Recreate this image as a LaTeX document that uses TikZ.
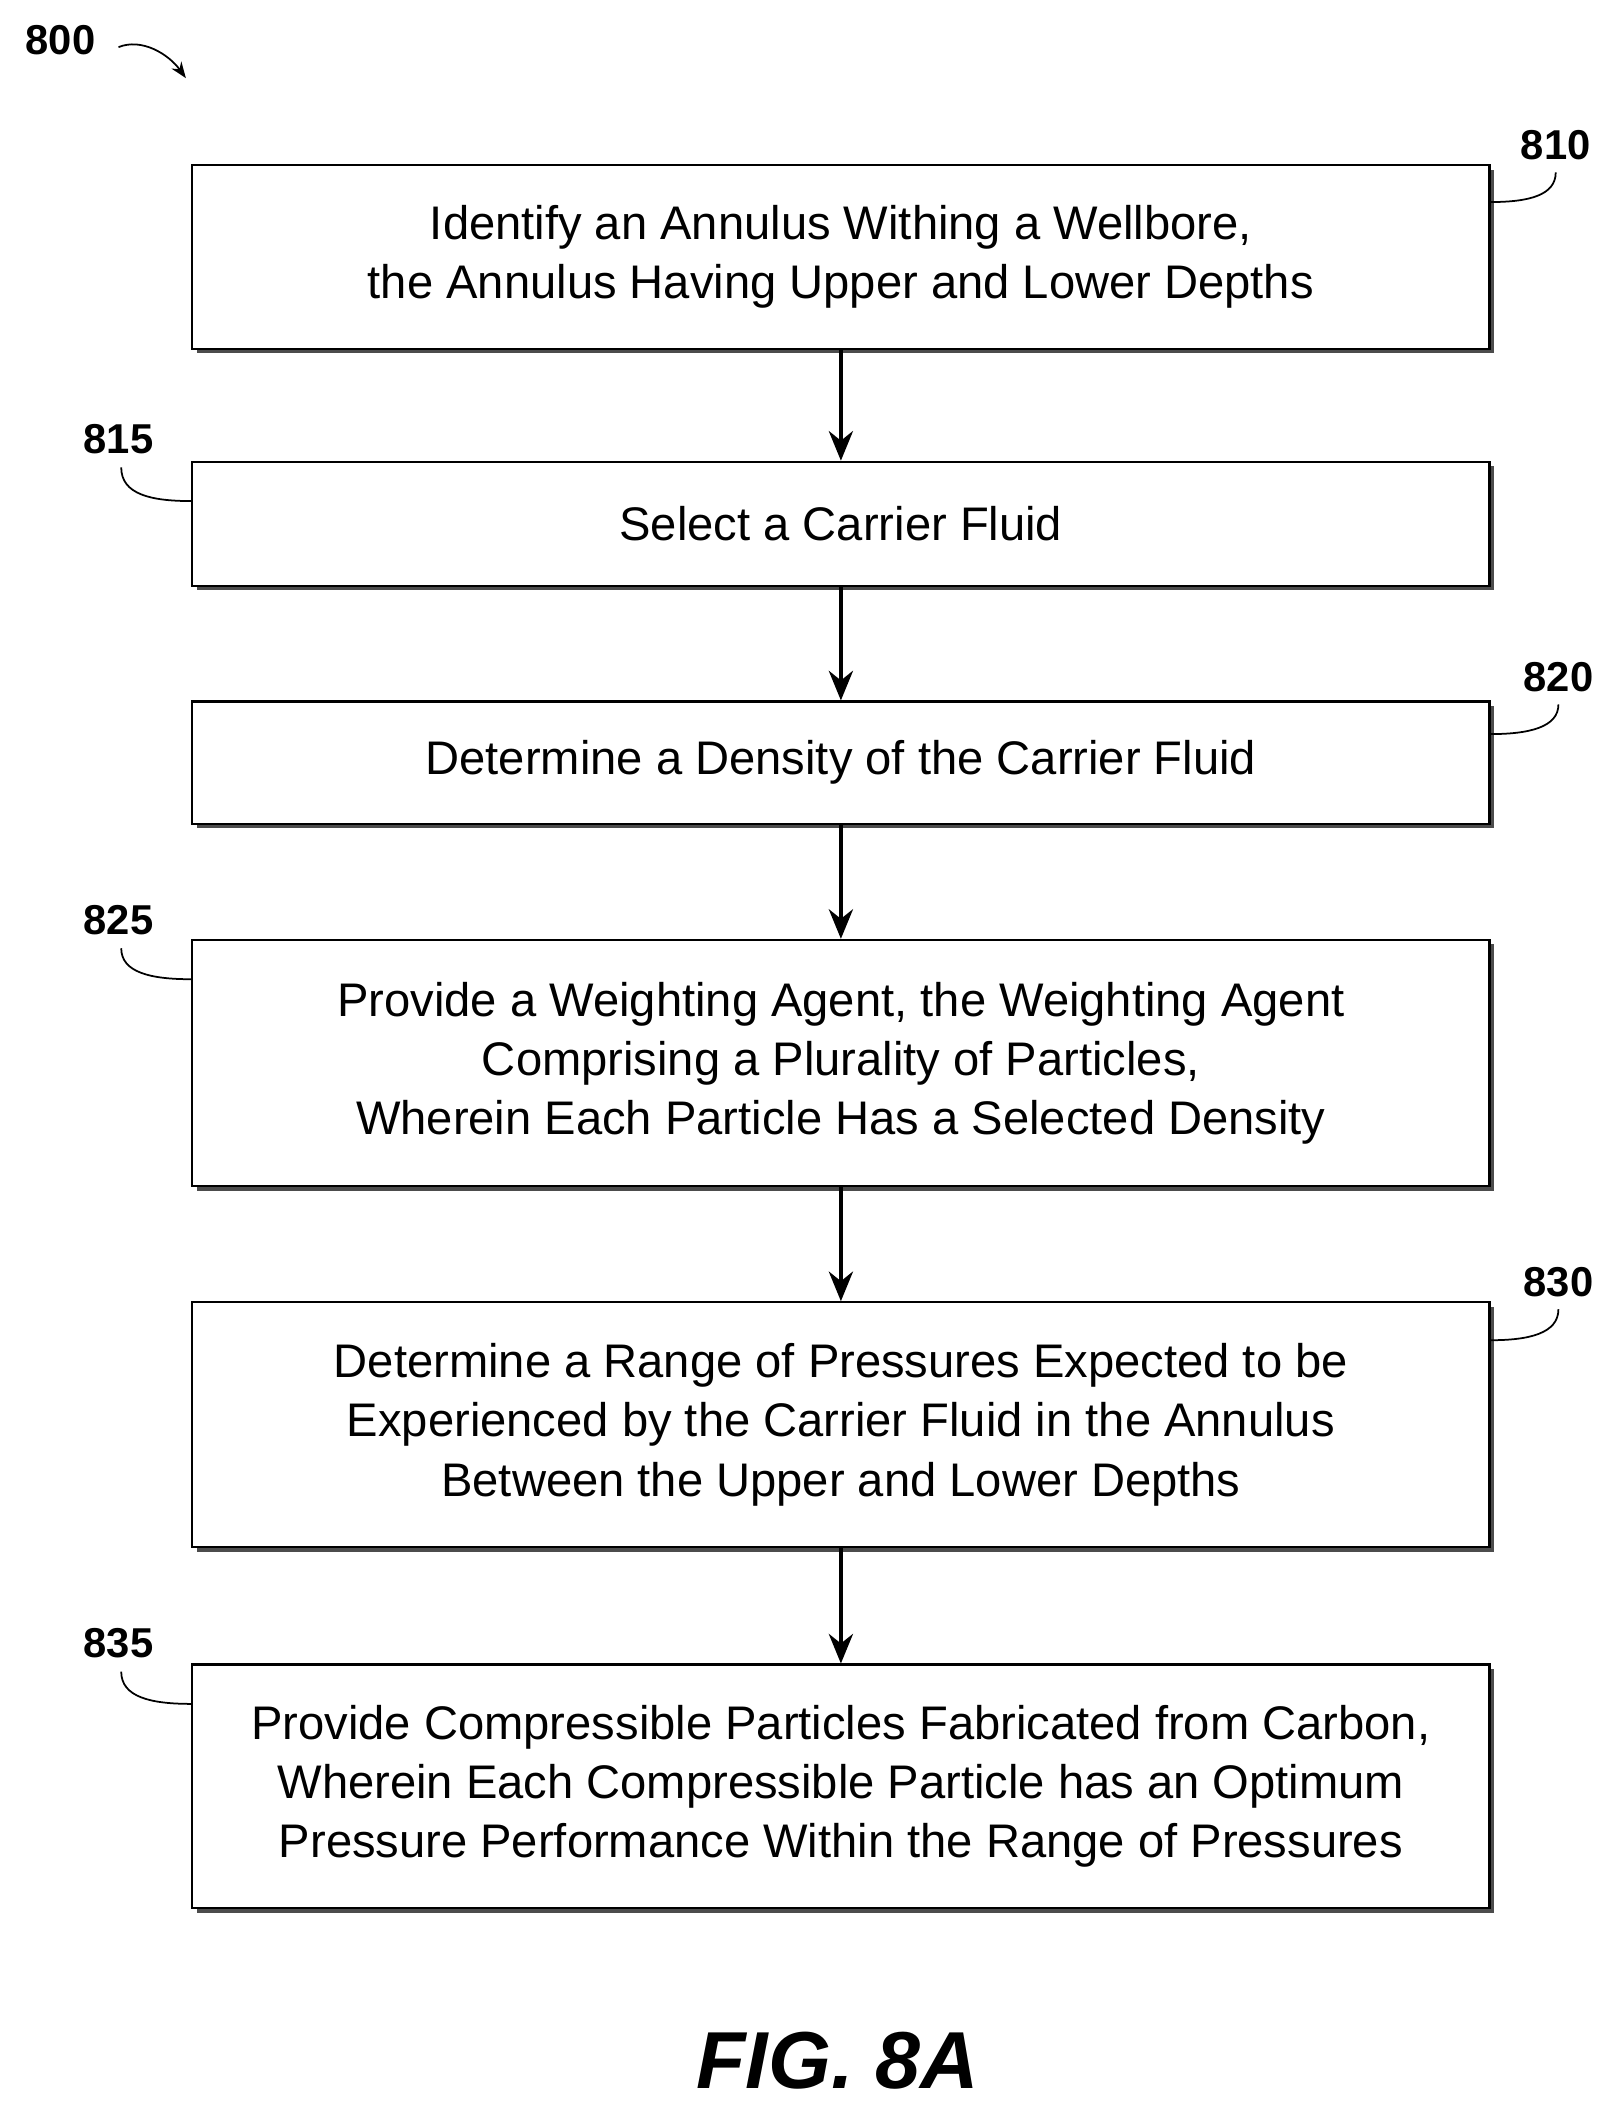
\documentclass[tikz,border=0pt]{standalone}
\usepackage{fontspec}
\setmainfont{Liberation Sans}
\usetikzlibrary{arrows.meta}
\begin{document}
\begin{tikzpicture}[x=1pt,y=-1pt,
 box/.style={draw,line width=1.6pt,fill=white,minimum width=963pt,anchor=north west,inner sep=0pt,align=center,font=\fontsize{35}{44}\selectfont},
 lab/.style={font=\fontsize{31}{32}\selectfont\bfseries},
 arr/.style={line width=2.6pt,-{Stealth[length=22pt,width=18pt]}},
 lead/.style={line width=1.3pt}]
\useasboundingbox (0,0) rectangle (1200,1568);
\def\bx#1#2#3#4{%
 \fill[black!70] (146,#2+4) rectangle (1109,#3+4);
 \node[box,minimum height=#3-#2] (#1) at (142,#2) {#4};}
\bx{b1}{122}{258}{Identify an Annulus Withing a Wellbore,\\the Annulus Having Upper and Lower Depths}
\bx{b2}{342}{434}{Select a Carrier Fluid}
\bx{b3}{520}{611}{Determine a Density of the Carrier Fluid}
\bx{b4}{697}{880}{Provide a Weighting Agent, the Weighting Agent\\Comprising a Plurality of Particles,\\Wherein Each Particle Has a Selected Density}
\bx{b5}{966}{1148}{Determine a Range of Pressures Expected to be\\Experienced by the Carrier Fluid in the Annulus\\Between the Upper and Lower Depths}
\bx{b6}{1235}{1416}{Provide Compressible Particles Fabricated from Carbon,\\Wherein Each Compressible Particle has an Optimum\\Pressure Performance Within the Range of Pressures}
\foreach \a/\b in {b1/b2,b2/b3,b3/b4,b4/b5,b5/b6} \draw[arr] (\a.south) -- (\b.north);
\node[lab] (l800) at (45,30) {800};
\coordinate (a800) at (138,58);
\draw[lead,-{Stealth[length=12pt,width=9pt]}] (88,35) .. controls (105,28) and (125,40) .. (a800);
\node[lab] (l810) at (1155,108) {810};
\draw[lead] (b1.east|-0,150) .. controls (1135,150) and (1155,145) .. (1155,128);
\node[lab] (l820) at (1157,503) {820};
\draw[lead] (b3.east|-0,545) .. controls (1135,545) and (1157,540) .. (1157,523);
\node[lab] (l830) at (1157,952) {830};
\draw[lead] (b5.east|-0,995) .. controls (1135,995) and (1157,990) .. (1157,972);
\node[lab] (l815) at (88,326) {815};
\draw[lead] (b2.west|-0,372) .. controls (112,372) and (90,367) .. (90,347);
\node[lab] (l825) at (88,683) {825};
\draw[lead] (b4.west|-0,727) .. controls (112,727) and (90,722) .. (90,704);
\node[lab] (l835) at (88,1220) {835};
\draw[lead] (b6.west|-0,1265) .. controls (112,1265) and (90,1260) .. (90,1241);
\node[font=\fontsize{60}{62}\selectfont\bfseries\itshape] (fig) at (622,1530) {FIG. 8A};
\end{tikzpicture}
\end{document}
